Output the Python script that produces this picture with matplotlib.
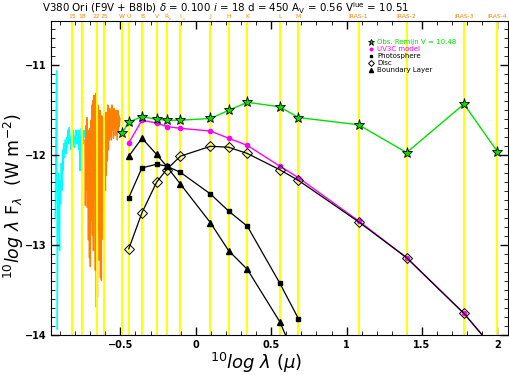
import numpy as np
import matplotlib
matplotlib.use("Agg")
import matplotlib.pyplot as plt
from matplotlib.ticker import MultipleLocator

# Filter names and their wavelength, 10log(lambda / micron)
# (a name like "R_c" gets a small subscript)
filter_names = ["15", "18", "22", "25", "W", "U", "B", "V", "R_c", "I_c",
                "J", "H", "K", "L", "M", "IRAS-1", "IRAS-2", "IRAS-3", "IRAS-4"]
filter_loglam = [-0.818, -0.752, -0.658, -0.607, -0.488, -0.444, -0.357, -0.260,
                 -0.194, -0.102, 0.097, 0.217, 0.342, 0.556, 0.681,
                 1.079, 1.398, 1.778, 2.000]

# Observed photometry (W .. IRAS-4)
obs_loglam = filter_loglam[4:]
obs_flux = [-11.75, -11.63, -11.57, -11.60, -11.61, -11.61, -11.59, -11.50,
            -11.41, -11.46, -11.58, -11.66, -11.97, -11.43, -11.96]

# Model components (U .. IRAS-4)
mod_loglam = filter_loglam[5:]
uv3c_flux = [-11.86, -11.61, -11.64, -11.68, -11.70, -11.73, -11.81, -11.89,
             -12.12, -12.25, -12.73, -13.14, -13.76, -14.20]
disc_flux = [-13.04, -12.64, -12.30, -12.16, -12.01, -11.90, -11.91, -11.98,
             -12.16, -12.28, -12.74, -13.14, -13.76, -14.20]
# Photosphere and boundary layer stop at M
phot_loglam = filter_loglam[5:15]
phot_flux = [-12.47, -12.14, -12.10, -12.12, -12.19, -12.43, -12.62, -12.79,
             -13.42, -13.82]
bl_flux = [-12.01, -11.81, -11.99, -12.12, -12.32, -12.75, -13.06, -13.27,
           -13.85, -14.33]

# IUE short wavelength spectrum (cyan)
iue_loglam = [-0.932, -0.927, -0.923, -0.921, -0.918, -0.914, -0.909, -0.905,
              -0.903, -0.901, -0.896, -0.892, -0.887, -0.883, -0.879, -0.874,
              -0.870, -0.865, -0.861, -0.856, -0.852, -0.848, -0.843, -0.839,
              -0.834, -0.830, -0.826, -0.821, -0.817, -0.812, -0.808, -0.804,
              -0.799, -0.795, -0.790, -0.786, -0.781, -0.777, -0.773, -0.768,
              -0.764, -0.759, -0.755, -0.750, -0.746, -0.742, -0.737, -0.733,
              -0.728, -0.724, -0.715]
iue_flux = [-12.69, -11.72, -11.06, -12.09, -13.94, -12.65, -12.20, -12.83,
            -13.06, -12.28, -12.54, -12.09, -12.39, -11.94, -12.17, -11.87,
            -12.02, -11.83, -11.98, -11.80, -11.91, -11.72, -11.87, -11.69,
            -11.83, -11.80, -11.94, -11.76, -11.91, -11.72, -11.80, -11.91,
            -11.80, -11.72, -11.87, -11.72, -11.80, -11.94, -11.72, -12.17,
            -11.83, -11.70, -11.80, -11.76, -11.87, -11.72, -11.80, -11.76,
            -11.87, -11.83, -11.87]

# IUE long wavelength spectrum (orange)
iuel_loglam = [-0.735, -0.732, -0.728, -0.725, -0.722, -0.719, -0.715, -0.712,
               -0.709, -0.705, -0.702, -0.699, -0.695, -0.692, -0.689, -0.685,
               -0.682, -0.679, -0.675, -0.672, -0.669, -0.666, -0.662, -0.659,
               -0.656, -0.652, -0.649, -0.646, -0.642, -0.639, -0.636, -0.632,
               -0.629, -0.626, -0.623, -0.619, -0.616, -0.613, -0.609, -0.606,
               -0.603, -0.599, -0.596, -0.593, -0.589, -0.586, -0.583, -0.579,
               -0.576, -0.573, -0.570, -0.566, -0.563, -0.560, -0.556, -0.553,
               -0.550, -0.546, -0.543, -0.540, -0.536, -0.533, -0.530, -0.526,
               -0.523, -0.520, -0.517, -0.513, -0.510, -0.507, -0.503]
iuel_flux = [-11.83, -12.56, -11.67, -12.39, -11.58, -12.58, -11.72, -12.94,
             -11.78, -13.14, -11.70, -13.24, -11.61, -12.72, -11.44, -12.89,
             -11.39, -13.06, -11.33, -12.50, -11.50, -13.28, -11.31, -13.69,
             -11.56, -13.58, -11.44, -12.83, -11.61, -13.17, -11.50, -13.36,
             -11.67, -13.39, -11.56, -12.61, -11.61, -12.94, -11.50, -12.50,
             -11.59, -12.39, -11.52, -12.22, -11.61, -12.06, -11.44, -11.94,
             -11.50, -11.83, -11.48, -11.78, -11.56, -11.83, -11.44, -11.72,
             -11.52, -11.81, -11.48, -11.70, -11.53, -11.78, -11.50, -11.67,
             -11.56, -11.83, -11.50, -11.72, -11.56, -11.68, -11.59]

ORANGE = "#ff8000"
GREEN = "#00e000"
MAGENTA = "#ff00ff"

fig = plt.figure(figsize=(5.09, 3.75), dpi=100)
ax = fig.add_axes([0.1002, 0.1067, 0.8978, 0.8386])

# spectra go under the filter lines
ax.plot(iue_loglam, iue_flux, color="cyan", lw=1.0, zorder=1)
ax.plot(iuel_loglam, iuel_flux, color=ORANGE, lw=1.0, zorder=1)

# filter lines + names along the top
for name, lx in zip(filter_names, filter_loglam):
    ax.axvline(lx, color="yellow", lw=1.4, zorder=2)
    base, _, sub = name.partition("_")
    ax.annotate(base, (lx, 1.0), xycoords=("data", "axes fraction"),
                xytext=(0, 0.8), textcoords="offset points",
                color=ORANGE, fontsize=4.3, ha="center", va="bottom",
                annotation_clip=False)
    if sub:
        # subscript hangs just below, right of the letter
        ax.annotate(sub, (lx, 1.0), xycoords=("data", "axes fraction"),
                    xytext=(1.6, -0.6), textcoords="offset points",
                    color=ORANGE, fontsize=3.2, ha="left", va="bottom",
                    annotation_clip=False)

ax.plot(obs_loglam, obs_flux, color=GREEN, lw=1.0, marker="*", ms=8,
        mfc=GREEN, mec="black", mew=0.6, zorder=5,
        label="Obs. Remijn V = 10.48")
ax.plot(mod_loglam, uv3c_flux, color=MAGENTA, lw=1.0, marker="o", ms=3,
        mfc=MAGENTA, mec=MAGENTA, zorder=3, label="UV3C model")
ax.plot(phot_loglam, phot_flux, color="black", lw=0.9, marker="s", ms=3,
        zorder=4, label="Photosphere")
ax.plot(mod_loglam, disc_flux, color="black", lw=0.9, marker="D", ms=5,
        mfc="none", mec="black", mew=0.7, zorder=4, label="Disc")
ax.plot(phot_loglam, bl_flux, color="black", lw=0.9, marker="^", ms=5,
        zorder=4, label="Boundary Layer")

ax.set_xlim(-0.96, 2.07)
ax.set_ylim(-14, -10.5)

ax.xaxis.set_major_locator(MultipleLocator(0.5))
ax.xaxis.set_minor_locator(MultipleLocator(0.1))
ax.yaxis.set_major_locator(MultipleLocator(1))
ax.yaxis.set_minor_locator(MultipleLocator(0.1))
ax.tick_params(which="both", direction="in", top=True, right=True, labelsize=7)
ax.tick_params(which="major", length=6, width=1)
ax.tick_params(which="minor", length=3, width=0.6)
ax.set_xticks([-0.5, 0, 0.5, 1, 1.5, 2])
ax.set_xticklabels(["\u22120.5", "0", "0.5", "1", "1.5", "2"], fontweight="bold")
ax.set_yticks([-14, -13, -12, -11])
ax.set_yticklabels(["\u221214", "\u221213", "\u221212", "\u221211"], fontweight="bold")

ax.set_xlabel(r"$^{10}\mathit{log}\ \lambda\ (\mu)$", fontsize=13)
ax.set_ylabel(r"$^{10}\mathit{log}\ \lambda\ \mathrm{F}_\lambda\ \ (\mathrm{W\ m}^{-2})$",
              fontsize=12.5)
ax.xaxis.set_label_coords(0.45, -0.05)
ax.yaxis.set_label_coords(-0.055, 0.44)

leg = ax.legend(loc="upper left", bbox_to_anchor=(0.69, 0.95), fontsize=5,
                frameon=False, handlelength=0.6, handletextpad=0.6,
                labelspacing=0.15, markerscale=0.6, borderaxespad=0)
for txt, col in zip(leg.get_texts(), [GREEN, MAGENTA, "black", "black", "black"]):
    txt.set_color(col)
for h in leg.legend_handles:
    h.set_linestyle("none")

fig.text(42 / 509, 1 - 0.3 / 375,
         r"V380 Ori (F9V + B8Ib) $\delta$ = 0.100 $\mathit{i}$ = 18 d = 450 "
         r"A$_\mathrm{V}$ = 0.56 V$^\mathrm{lue}$ = 10.51",
         fontsize=7.4, ha="left", va="top")

fig.savefig("out.png", dpi=100)
